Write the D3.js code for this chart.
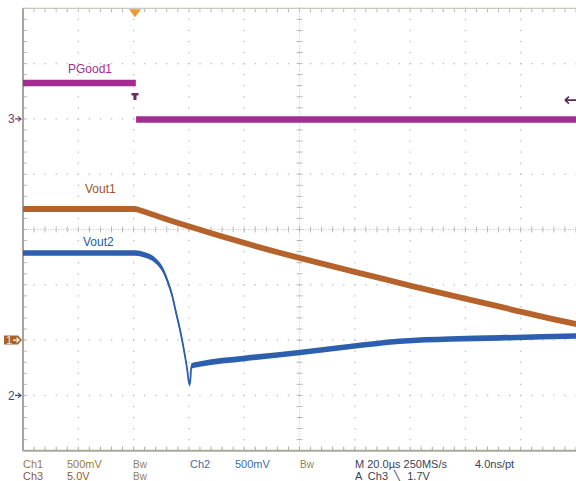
<!DOCTYPE html>
<html><head><meta charset="utf-8">
<script src="https://cdn.jsdelivr.net/npm/d3@7"></script>
<style>
body{margin:0;background:#fff}
svg{display:block}
text{font-family:"Liberation Sans",Arial,sans-serif}
</style>
</head><body>
<svg id="c" width="576" height="481"></svg>
<script>
// ---- data (time in µs, values in volts) ----
const timeDomainUs = [-40.5, 159.5];
const pgoodTime  = [-40.5, 0.3, 159.5];
const pgoodVolts = [3.25, -0.05, -0.05];
const vout1Time  = [-40.5, -20, 0, 2, 5, 10, 20, 40, 60, 80, 100, 120, 140, 159.5];
const vout1Volts = [1.185, 1.185, 1.185, 1.172, 1.148, 1.105, 1.025, 0.875, 0.74, 0.613, 0.49, 0.372, 0.255, 0.145];
const vout2Time  = [-40.5, 0, 3.6, 6.2, 8.3, 10.1, 11.9, 13.4, 14.8, 16.3, 17.7, 18.8, 19.5, 19.9, 20.4, 23.5, 39.8, 59.7, 77.8, 95.8, 113.9, 132, 159.5];
const vout2Volts = [1.288, 1.288, 1.27, 1.242, 1.197, 1.134, 1.025, 0.908, 0.754, 0.591, 0.411, 0.248, 0.121, 0.103, 0.266, 0.284, 0.335, 0.388, 0.442, 0.49, 0.51, 0.52, 0.537];
const channelNames = ["PGood1", "Vout1", "Vout2"];
const voltsPerDiv  = [5.0, 0.5, 0.5];       // Ch3, Ch1, Ch2
const groundDiv    = [2, -2, -3];            // ground level, divisions from centre
const triggerLevelV = 1.7;
const legendRow1 = [["Ch1","c1"],["500mV","c1"],["Bw","bw"],["Ch2","c2"],["500mV","c2"],["Bw","bw"],["M 20.0µs 250MS/s","m"],["4.0ns/pt","m"]];
const legendRow2 = [["Ch3","c3"],["5.0V","c3"],["Bw","bw"],["A  Ch3  \u2572  1.7V","m"]];

// ---- layout ----
const L = 23, R = 576, T = 8.3, B = 450.7;
const svg = d3.select("#c");
const x = d3.scaleLinear().domain(timeDomainUs).range([L, R]);
const xDiv = d3.scaleLinear().domain([0, 10]).range([L, R]);
const yDiv = d3.scaleLinear().domain([-4, 4]).range([B, T]);
const colors = {pg:"#a22c90", v1:"#b6632b", v2:"#2d5fae"};

// ---- graticule ----
const g = svg.append("g");
const dotC = "#bdbdbd";
for (let i = 1; i < 10; i++) {
  if (i === 5) continue;
  for (let k = 0; k <= 40; k++) {
    g.append("rect").attr("x", xDiv(i) - 0.6).attr("y", yDiv(-4 + k / 5) - 0.6).attr("width", 1.3).attr("height", 1.3).attr("fill", dotC);
  }
}
for (let j = -3; j <= 3; j++) {
  if (j === 0) continue;
  for (let k = 0; k <= 50; k++) {
    g.append("rect").attr("x", xDiv(k / 5) - 0.6).attr("y", yDiv(j) - 0.6).attr("width", 1.3).attr("height", 1.3).attr("fill", dotC);
  }
}
// centre cross
g.append("line").attr("x1", xDiv(5)).attr("x2", xDiv(5)).attr("y1", T).attr("y2", B).attr("stroke", "#c4c4c4").attr("stroke-width", 1).attr("stroke-dasharray", "1,1.5");
g.append("line").attr("x1", L).attr("x2", R).attr("y1", yDiv(0)).attr("y2", yDiv(0)).attr("stroke", "#c4c4c4").attr("stroke-width", 1).attr("stroke-dasharray", "1,1.5");
for (let k = 0; k <= 40; k++) {
  const yy = yDiv(-4 + k / 5);
  g.append("line").attr("x1", xDiv(5) - 3).attr("x2", xDiv(5) + 3).attr("y1", yy).attr("y2", yy).attr("stroke", "#b8b8b8");
  g.append("line").attr("x1", L).attr("x2", L + 4).attr("y1", yy).attr("y2", yy).attr("stroke", "#b8b8b8");
}
for (let k = 0; k <= 50; k++) {
  const xx = xDiv(k / 5);
  g.append("line").attr("x1", xx).attr("x2", xx).attr("y1", yDiv(0) - 3).attr("y2", yDiv(0) + 3).attr("stroke", "#b8b8b8");
  g.append("line").attr("x1", xx).attr("x2", xx).attr("y1", T).attr("y2", T + 4).attr("stroke", "#b8b8b8");
  g.append("line").attr("x1", xx).attr("x2", xx).attr("y1", B - 4).attr("y2", B).attr("stroke", "#a8a8a0");
}
// border
g.append("line").attr("x1", L).attr("x2", R).attr("y1", T).attr("y2", T).attr("stroke", "#c8c8c0").attr("stroke-width", 1.2);
g.append("line").attr("x1", L).attr("x2", R).attr("y1", B).attr("y2", B).attr("stroke", "#a9a99a").attr("stroke-width", 2);
g.append("line").attr("x1", L).attr("x2", L).attr("y1", T).attr("y2", B).attr("stroke", "#a4a4a0").attr("stroke-width", 2);

// ---- traces ----
function chY(ci) { return v => yDiv(groundDiv[ci] + v / voltsPerDiv[ci]); }
function drawTrace(times, volts, ci, color, half, curve) {
  const yf = chY(ci);
  const pts = times.map((t, i) => [t, volts[i]]);
  svg.append("path").datum(pts)
    .attr("d", d3.area().curve(curve).x(d => x(d[0])).y0(d => yf(d[1]) - half).y1(d => yf(d[1]) + half))
    .attr("fill", color);
  svg.append("path").datum(pts)
    .attr("d", d3.line().curve(curve).x(d => x(d[0])).y(d => yf(d[1])))
    .attr("fill", "none").attr("stroke", color).attr("stroke-width", 1.8);
}
// PGood as two flat segments (fast edge not visible)
{
  const yf = chY(0);
  const segs = [[[pgoodTime[0], pgoodVolts[0]], [pgoodTime[1], pgoodVolts[0]]], [[pgoodTime[1] + 0.1, pgoodVolts[1]], [pgoodTime[2], pgoodVolts[2]]]];
  segs.forEach(s => {
    svg.append("path").datum(s)
      .attr("d", d3.area().x(d => x(d[0])).y0(d => yf(d[1]) - 3.3).y1(d => yf(d[1]) + 3.3))
      .attr("fill", colors.pg);
  });
}
drawTrace(vout1Time, vout1Volts, 1, colors.v1, 3, d3.curveMonotoneX);
drawTrace(vout2Time, vout2Volts, 2, colors.v2, 2.8, d3.curveMonotoneX);

// ---- trace labels ----
const lab = [[channelNames[0], 68, 73, colors.pg], [channelNames[1], 85, 193, "#9a5522"], [channelNames[2], 83, 246, "#2a5aa8"]];
lab.forEach(d => svg.append("text").attr("x", d[1]).attr("y", d[2]).attr("font-size", 12).attr("fill", d[3]).text(d[0]));

// ---- markers ----
const tx = x(0);
svg.append("path").attr("d", `M${tx - 6},${T + 1} L${tx + 6},${T + 1} L${tx},${T + 9} Z`).attr("fill", "#ec9a35");
const ty = chY(0)(triggerLevelV);
svg.append("path").attr("d", `M${tx - 3.5},${ty - 7} h7 v2.5 h-2 v4.5 h-3 v-4.5 h-2 Z`).attr("fill", "#6b2a66");
svg.append("path").attr("d", `M${R},${ty} L${R - 11},${ty} M${R - 11},${ty} l4,-3.5 M${R - 11},${ty} l4,3.5`).attr("stroke", "#5a2a55").attr("stroke-width", 1.6).attr("fill", "none");

// ground markers
const gy3 = yDiv(groundDiv[0]), gy1 = yDiv(groundDiv[1]), gy2 = yDiv(groundDiv[2]);
svg.append("text").attr("x", 8).attr("y", gy3 + 4.5).attr("font-size", 12).attr("fill", "#7a3a70").text("3");
svg.append("path").attr("d", `M15,${gy3} H21 M18,${gy3 - 2.5} L21,${gy3} L18,${gy3 + 2.5}`).attr("stroke", "#7a3a70").attr("stroke-width", 1.2).attr("fill", "none");
svg.append("path").attr("d", `M4,${gy1 - 4.5} H18 L22,${gy1} L18,${gy1 + 4.5} H4 Z`).attr("fill", "#a8622a");
svg.append("text").attr("x", 6).attr("y", gy1 + 4).attr("font-size", 11).attr("fill", "#f3e4c8").text("1");
svg.append("path").attr("d", `M13,${gy1} H19 M16.5,${gy1 - 2.5} L19,${gy1} L16.5,${gy1 + 2.5}`).attr("stroke", "#fff").attr("stroke-width", 1.2).attr("fill", "none");
svg.append("text").attr("x", 8).attr("y", gy2 + 4.5).attr("font-size", 12).attr("fill", "#3c4e78").text("2");
svg.append("path").attr("d", `M15,${gy2} H21 M18,${gy2 - 2.5} L21,${gy2} L18,${gy2 + 2.5}`).attr("stroke", "#3c4e78").attr("stroke-width", 1.2).attr("fill", "none");

// ---- readout ----
const legendColors = {c1:"#9b7a3c", c2:"#3f6aa8", c3:"#8e5a3a", bw:"#8d7f62", m:"#3c3f55"};
const row1X = [23, 67, 133, 190, 235, 300, 355, 475];
const row2X = [23, 67, 133, 355];
legendRow1.forEach((d, i) => svg.append("text").attr("x", row1X[i]).attr("y", 468).attr("font-size", d[1] === "bw" ? 10 : 11).attr("fill", legendColors[d[1]]).text(d[0]));
legendRow2.forEach((d, i) => svg.append("text").attr("x", row2X[i]).attr("y", 480).attr("font-size", d[1] === "bw" ? 10 : 11).attr("fill", legendColors[d[1]]).style("white-space", "pre").text(d[0]));
</script>
</body></html>
